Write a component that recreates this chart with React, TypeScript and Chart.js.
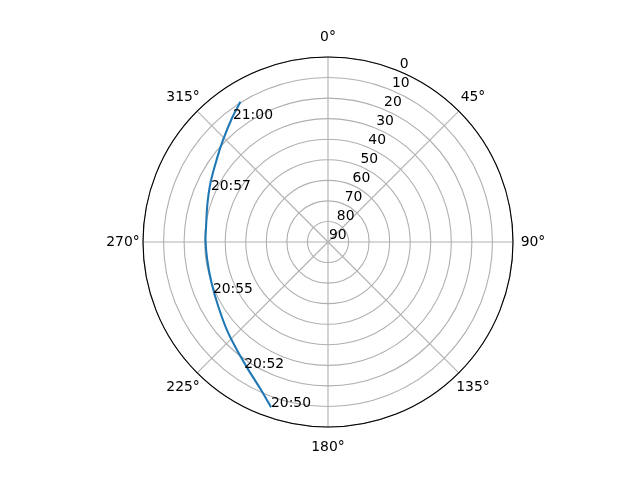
import React, { useEffect, useRef } from "react";
import { Chart, registerables } from "chart.js";

Chart.register(...registerables);

// Azimuth (degrees, clockwise from north) and elevation (degrees) of the pass
const azimuths = [199, 205, 212, 220, 229, 240, 251, 262, 271, 276, 287, 297, 307, 314, 322, 328];
const elevations = [5.0, 11.6, 16.8, 21.2, 24.8, 28.2, 30.0, 30.6, 30.4, 30.3, 28.6, 25.9, 22.4, 18.9, 13.9, 9.6];

// Time annotations along the track
const timeLabels = ["20:50", "20:52", "20:55", "20:57", "21:00"];
const timeAz = [199.1, 213.7, 246.2, 294.1, 322.4];
const timeEl = [5.2, 16.5, 28.8, 27.6, 14.2];

// Axis labels
const angleTicks = [0, 45, 90, 135, 180, 225, 270, 315];
const radialTicks = [0, 10, 20, 30, 40, 50, 60, 70, 80, 90];
const radialLabelAngle = 22.5;

const FONT = "13.9px 'DejaVu Sans'";

export default function App() {
  const canvasRef = useRef<HTMLCanvasElement | null>(null);

  useEffect(() => {
    const canvas = canvasRef.current;
    if (!canvas) return;

    const labels: string[] = [];
    for (let i = 0; i < 360; i++) labels.push(String(i));
    const series: (number | null)[] = new Array(360).fill(null);
    azimuths.forEach((az, i) => {
      series[az] = elevations[i];
    });

    // keep the track open (radar lines are closed loops by default)
    const openTrack = {
      id: "openTrack",
      afterDatasetsUpdate(chart: any) {
        const meta = chart.getDatasetMeta(0);
        const line = meta && meta.dataset;
        if (!line) return;
        line._loop = false;
        line._fullLoop = false;
        delete line._segments;
        delete line._path;
        line._pointsUpdated = false;
        if (typeof line.updateControlPoints === "function") {
          line.updateControlPoints(chart.chartArea, meta.indexAxis);
        }
      },
    };

    const polarDecor = {
      id: "polarDecor",
      afterDraw(chart: any) {
        const scale = chart.scales.r;
        const ctx = chart.ctx;
        const R = scale.drawingArea;
        ctx.save();
        // outer spine
        ctx.beginPath();
        ctx.arc(scale.xCenter, scale.yCenter, R, 0, Math.PI * 2);
        ctx.strokeStyle = "#000000";
        ctx.lineWidth = 1.1;
        ctx.stroke();

        ctx.fillStyle = "#000000";
        ctx.font = FONT;
        // angle labels
        ctx.textAlign = "center";
        ctx.textBaseline = "middle";
        angleTicks.forEach((a) => {
          const p = scale.getPointPosition(a, R + 20);
          ctx.fillText(a + "°", p.x, p.y);
        });
        // radial labels
        ctx.textAlign = "left";
        ctx.textBaseline = "alphabetic";
        radialTicks.forEach((v) => {
          const d = scale.getDistanceFromCenterForValue(v);
          const p = scale.getPointPosition(radialLabelAngle, d);
          ctx.fillText(String(v), p.x + 1, p.y - 3);
        });
        // time labels
        timeLabels.forEach((t, i) => {
          const d = scale.getDistanceFromCenterForValue(timeEl[i]);
          const p = scale.getPointPosition(timeAz[i], d);
          ctx.fillText(t, p.x, p.y);
        });
        ctx.restore();
      },
    };

    const chart = new Chart(canvas, {
      type: "radar",
      data: {
        labels,
        datasets: [
          {
            data: series,
            borderColor: "#1f77b4",
            borderWidth: 2.08,
            pointRadius: 0,
            pointHoverRadius: 0,
            fill: false,
            spanGaps: true,
            tension: 0.3,
          } as any,
        ],
      },
      options: {
        responsive: false,
        animation: false,
        events: [],
        layout: { padding: { top: 57, bottom: 53, left: 143, right: 127 } },
        plugins: { legend: { display: false }, tooltip: { enabled: false } },
        scales: {
          r: {
            min: 0,
            max: 90,
            reverse: true,
            startAngle: 0,
            ticks: { display: false, stepSize: 10, reverse: true } as any,
            grid: { circular: true, color: "#b0b0b0", lineWidth: 1.1 },
            angleLines: {
              display: true,
              lineWidth: 1.1,
              color: (c: any) => (c.index % 45 === 0 ? "#b0b0b0" : "rgba(0,0,0,0)"),
            },
            pointLabels: { display: false },
          },
        },
      },
      plugins: [openTrack, polarDecor],
    });

    return () => chart.destroy();
  }, []);

  return (
    <div style={{ position: "fixed", left: 0, top: 0, width: 640, height: 480, background: "#ffffff" }}>
      <canvas ref={canvasRef} width={640} height={480} style={{ width: 640, height: 480 }} />
    </div>
  );
}
